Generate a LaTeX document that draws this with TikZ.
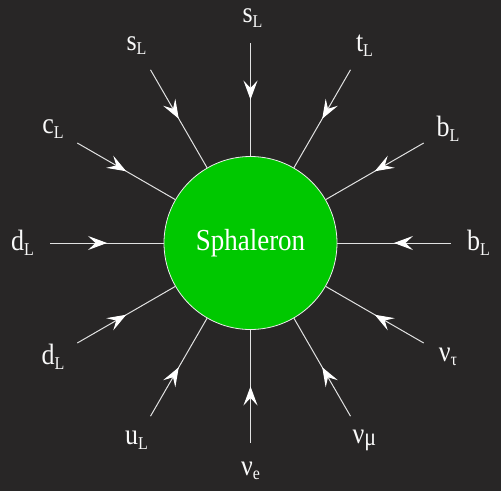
\documentclass[tikz,border=0pt]{standalone}
\usepackage{fontspec}
\setmainfont{Liberation Serif}
\usetikzlibrary{arrows.meta,decorations.markings}
\definecolor{board}{RGB}{40,38,38}
\definecolor{sphgreen}{RGB}{0,200,0}
\definecolor{chalk}{RGB}{225,225,225}
\newcommand\lsub[1]{\raisebox{-4pt}{\fontsize{16pt}{16pt}\selectfont #1}}
\newcommand\tall[1]{\scalebox{1}[1.13]{#1}}
\tikzset{
  fermion/.style={draw=chalk, line width=1pt,
    postaction={decorate},
    decoration={markings, mark=at position 0.5 with {\arrow{Stealth[length=19pt,width=14pt,inset=7.5pt,color=white,fill=white]}}}},
  lbl/.style={text=white!95!gray, font=\fontsize{26pt}{26pt}\selectfont, inner sep=0pt},
  blob/.style={circle, fill=sphgreen, draw=white!85!gray, line width=0.8pt, minimum size=173pt, inner sep=0pt,
    text=white, font=\fontsize{27pt}{27pt}\selectfont}
}
\begin{document}
\begin{tikzpicture}[x=1pt,y=1pt]
\fill[board] (-250.5,-248) rectangle (250.5,243);
\useasboundingbox (-250.5,-248) rectangle (250.5,243);
\node[blob] (S) at (0,0) {\raisebox{3pt}{\tall{Sphaleron}}};
\foreach \a/\n in {90/a,120/b,150/c,180/d,210/e,240/f,270/g,300/h,330/i,0/j,30/k,60/l}{
  \coordinate (o\n) at (\a:200);
  \draw[fermion] (o\n) -- (S.\a);
}
\node[lbl] (La) at (2,225) {\tall{s\lsub{L}}};
\node[lbl] (Lb) at (120:228) {\tall{s\lsub{L}}};
\node[lbl] (Lc) at (150:228) {\tall{c\lsub{L}}};
\node[lbl] (Ld) at (180:228) {\tall{d\lsub{L}}};
\node[lbl] (Le) at (210:228) {\tall{d\lsub{L}}};
\node[lbl] (Lf) at (240:228) {\tall{u\lsub{L}}};
\node[lbl] (Lg) at (270:228) {\tall{ν\lsub{e}}};
\node[lbl] (Lh) at (300:228) {\tall{ν\raisebox{-2pt}{\fontsize{22pt}{22pt}\selectfont μ}}};
\node[lbl] (Li) at (330:228) {\tall{ν\lsub{τ}}};
\node[lbl] (Lj) at (0:228) {\tall{b\lsub{L}}};
\node[lbl] (Lk) at (30:228) {\tall{b\lsub{L}}};
\node[lbl] (Ll) at (60:228) {\tall{t\lsub{L}}};
\end{tikzpicture}
\end{document}
